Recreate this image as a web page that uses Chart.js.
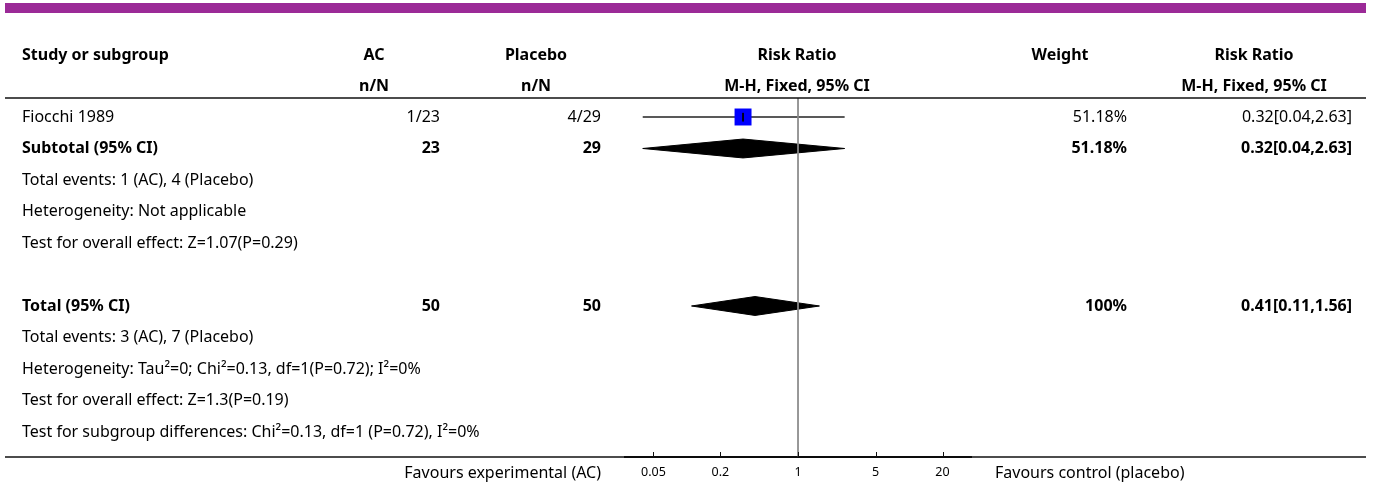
<!DOCTYPE html>
<html>
<head>
<meta charset="utf-8">
<script src="https://cdn.jsdelivr.net/npm/chart.js@4.4.1/dist/chart.umd.min.js"></script>
<style>
  html, body { margin: 0; padding: 0; background: #fff; }
</style>
</head>
<body>
<canvas id="forest" width="1375" height="488"></canvas>
<script>
// one entry per line of the table
const rowLabels = [
  'Fiocchi 1989',
  'Subtotal (95% CI)',
  'Total events: 1 (AC), 4 (Placebo)',
  'Heterogeneity: Not applicable',
  'Test for overall effect: Z=1.07(P=0.29)',
  '',
  'Total (95% CI)',
  'Total events: 3 (AC), 7 (Placebo)',
  'Heterogeneity: Tau\u00b2=0; Chi\u00b2=0.13, df=1(P=0.72); I\u00b2=0%',
  'Test for overall effect: Z=1.3(P=0.19)',
  'Test for subgroup differences: Chi\u00b2=0.13, df=1 (P=0.72), I\u00b2=0%'
];
const rowBold = [false, true, false, false, false, false, true, false, false, false, false];
const acCounts = ['1/23', '23', '', '', '', '', '50', '', '', '', ''];
const placeboCounts = ['4/29', '29', '', '', '', '', '50', '', '', '', ''];
const weights = ['51.18%', '51.18%', '', '', '', '', '100%', '', '', '', ''];
const ciTexts = ['0.32[0.04,2.63]', '0.32[0.04,2.63]', '', '', '', '', '0.41[0.11,1.56]', '', '', '', ''];

// single studies (square + CI line)
const studyRows = [0];
const studyRR = [0.32];
const studyLow = [0.04];
const studyHigh = [2.63];

// pooled results (diamonds)
const pooledRows = [1, 6];
const pooledRR = [0.32, 0.41];
const pooledLow = [0.04, 0.11];
const pooledHigh = [2.63, 1.56];

const headerTop = ['Study or subgroup', 'AC', 'Placebo', 'Risk Ratio', 'Weight', 'Risk Ratio'];
const headerSub = ['', 'n/N', 'n/N', 'M-H, Fixed, 95% CI', '', 'M-H, Fixed, 95% CI'];
const axisTicks = [0.05, 0.2, 1, 5, 20];
const favourLeft = 'Favours experimental (AC)';
const favourRight = 'Favours control (placebo)';

const FONT = '"Noto Sans"';
const yMin = -0.603, yMax = 10.794;
const halfDiamond = 0.3;

Chart.defaults.font.family = FONT;

// draws the table text and the rules around the plot
const tablePlugin = {
  id: 'tablePlugin',
  beforeDraw(chart) {
    const ctx = chart.ctx;
    ctx.save();
    ctx.fillStyle = '#9b2a97';
    ctx.fillRect(5, 3, 1361, 10);
    ctx.restore();
  },
  afterDraw(chart) {
    const { ctx, chartArea, scales } = chart;
    const ys = scales.y, xs = scales.x;
    ctx.save();
    ctx.strokeStyle = '#111';
    ctx.lineWidth = 1.5;
    [chartArea.top, chartArea.bottom].forEach(py => {
      ctx.beginPath();
      ctx.moveTo(5, py);
      ctx.lineTo(1366, py);
      ctx.stroke();
    });
    // small ticks pointing up into the plot
    ctx.lineWidth = 1;
    axisTicks.forEach(v => {
      const px = Math.round(xs.getPixelForValue(v)) + 0.5;
      ctx.beginPath();
      ctx.moveTo(px, chartArea.bottom);
      ctx.lineTo(px, chartArea.bottom - 5);
      ctx.stroke();
    });

    ctx.fillStyle = '#000';
    ctx.textBaseline = 'middle';
    const headX = [22, 374, 536, 797, 1060, 1254];
    ctx.font = `bold 16px ${FONT}`;
    headerTop.forEach((t, i) => {
      ctx.textAlign = i === 0 ? 'left' : 'center';
      ctx.fillText(t, headX[i], ys.getPixelForValue(-1.95));
    });
    headerSub.forEach((t, i) => {
      ctx.textAlign = i === 0 ? 'left' : 'center';
      ctx.fillText(t, headX[i], ys.getPixelForValue(-0.96));
    });

    rowLabels.forEach((t, i) => {
      const py = ys.getPixelForValue(i);
      ctx.font = `${rowBold[i] ? 'bold ' : ''}16px ${FONT}`;
      ctx.textAlign = 'left';
      ctx.fillText(t, 22, py);
      ctx.textAlign = 'right';
      ctx.fillText(acCounts[i], 440, py);
      ctx.fillText(placeboCounts[i], 601, py);
      ctx.fillText(weights[i], 1127, py);
      ctx.fillText(ciTexts[i], 1352, py);
    });

    ctx.font = `16px ${FONT}`;
    ctx.textAlign = 'right';
    ctx.fillText(favourLeft, 601, 473);
    ctx.textAlign = 'left';
    ctx.fillText(favourRight, 995, 473);
    ctx.restore();
  }
};

const datasets = [];

// line of no effect
datasets.push({
  data: [{ x: 1, y: yMin }, { x: 1, y: yMax }],
  showLine: true, borderColor: '#8a8a8a', borderWidth: 1, pointRadius: 0, order: 0
});

studyRows.forEach((r, i) => {
  datasets.push({
    data: [{ x: studyLow[i], y: r }, { x: studyHigh[i], y: r }],
    showLine: true, borderColor: '#222', borderWidth: 1.5, pointRadius: 0, order: 4
  });
  datasets.push({
    data: [{ x: studyRR[i], y: r }],
    pointStyle: 'rect', pointRadius: 12, pointBackgroundColor: '#0000ff',
    pointBorderColor: '#0000ff', pointBorderWidth: 0, order: 3
  });
  datasets.push({
    data: [{ x: studyRR[i], y: r - 0.13 }, { x: studyRR[i], y: r + 0.14 }],
    showLine: true, borderColor: '#000', borderWidth: 1, pointRadius: 0, order: 2
  });
});

pooledRows.forEach((r, i) => {
  datasets.push({
    data: [
      { x: pooledLow[i], y: r },
      { x: pooledRR[i], y: r - halfDiamond },
      { x: pooledHigh[i], y: r },
      { x: pooledRR[i], y: r + halfDiamond },
      { x: pooledLow[i], y: r }
    ],
    showLine: true, fill: 'shape', tension: 0,
    backgroundColor: '#000', borderColor: '#000', borderWidth: 1, pointRadius: 0, order: 5
  });
});

new Chart(document.getElementById('forest'), {
  type: 'scatter',
  data: { datasets: datasets },
  options: {
    responsive: false,
    animation: false,
    layout: { padding: { left: 625, right: 404, top: 98, bottom: 0 } },
    plugins: { legend: { display: false }, tooltip: { enabled: false } },
    scales: {
      x: {
        type: 'logarithmic',
        min: 0.0277,
        max: 36.1,
        bounds: 'data',
        afterBuildTicks: s => { s.ticks = axisTicks.map(v => ({ value: v })); },
        afterFit: s => { s.height = 31; },
        ticks: {
          callback: v => String(v),
          autoSkip: false, maxRotation: 0,
          font: { size: 12.5 }, color: '#000', padding: 8
        },
        grid: { drawOnChartArea: false, drawTicks: false },
        border: { display: true, color: '#000', width: 2 }
      },
      y: { display: false, reverse: true, min: yMin, max: yMax }
    }
  },
  plugins: [tablePlugin]
});
</script>
</body>
</html>
